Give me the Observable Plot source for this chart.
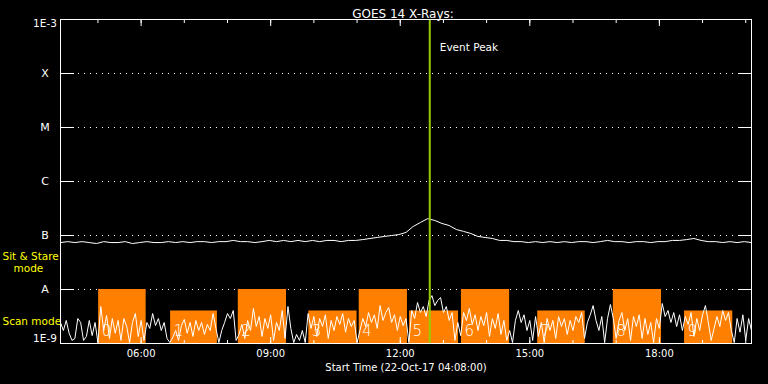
<!DOCTYPE html>
<html>
<head>
<meta charset="utf-8">
<script src="https://cdn.jsdelivr.net/npm/d3@7"></script>
<script src="https://cdn.jsdelivr.net/npm/@observablehq/plot@0.6"></script>
<style>
  html, body { margin: 0; padding: 0; background: #000; }
</style>
</head>
<body>
<div id="chart"></div>
<script>
// ---------------- data ----------------
const title = "GOES 14 X-Rays:";
const xAxisLabel = "Start Time (22-Oct-17 04:08:00)";
const startTime = "2017-10-22T04:08:00Z";
const endTime = "2017-10-22T20:08:00Z";

// Y-axis levels (W/m^2) and labels
const yLevels = [1e-9, 1e-8, 1e-7, 1e-6, 1e-5, 1e-4, 1e-3];
const yLabels = ["1E-9", "A", "B", "C", "M", "X", "1E-3"];

// Long channel (1-8 Å), 10-minute cadence, units of 1e-8 W/m^2
const longStepMin = 10;
const longFluxE8 = [
  7.4, 7.7, 7.4, 7.7, 7.4, 7.1, 7.7, 7.4, 7.4, 7.7,
  7.1, 7.4, 7.7, 7.4, 7.4, 7.7, 7.4, 7.7, 7.4, 7.7,
  7.7, 7.4, 7.7, 7.7, 8.1, 7.7, 7.7, 7.4, 7.7, 8.1,
  7.7, 8.1, 7.7, 8.1, 7.7, 8.1, 7.7, 8.1, 8.1, 7.7,
  8.1, 8.1, 8.4, 8.8, 9.2, 9.6, 10.0, 10.4, 11.4, 14.7,
  17.4, 20.5, 19.0, 16.7, 15.3, 12.9, 11.9, 10.9, 9.6, 9.2,
  8.8, 8.1, 8.1, 7.7, 7.7, 7.4, 7.7, 7.4, 7.7, 7.4,
  7.7, 7.4, 7.7, 7.7, 7.4, 7.7, 8.1, 7.7, 7.7, 7.4,
  7.7, 7.7, 7.4, 7.7, 7.7, 8.1, 8.1, 8.4, 8.8, 8.1,
  7.7, 7.7, 7.4, 7.7, 7.4, 7.7, 7.4
];

// Short channel (0.5-4 Å), 4-minute cadence, units of 1e-9 W/m^2
const shortStepMin = 4;
const shortFluxE9 = [
  2.45, 1.74, 2.67, 1.55, 1.14, 1.24, 2.9, 2.45, 1.14, 1.35,
  2.67, 1.4, 2.45, 1.04, 4.84, 1.74, 3.3, 1.24, 2.9, 1.55,
  2.67, 1.14, 2.9, 2.06, 1.04, 2.45, 3.59, 1.35, 2.67, 1.14,
  2.45, 1.9, 3.59, 2.15, 2.9, 1.74, 2.45, 1.24, 1.04, 1.29,
  1.74, 1.14, 2.15, 2.8, 1.55, 2.45, 1.35, 2.67, 1.74, 2.45,
  1.47, 2.25, 1.74, 3.59, 1.9, 1.04, 1.74, 2.45, 3.59, 2.9,
  4.08, 1.14, 1.47, 2.25, 1.24, 2.67, 1.74, 4.45, 2.06, 3.16,
  1.35, 2.9, 1.9, 3.4, 1.14, 2.45, 1.74, 4.08, 1.24, 4.84,
  1.9, 1.04, 1.47, 1.14, 1.74, 1.04, 3.59, 1.9, 3.16, 1.35,
  2.9, 2.06, 3.4, 1.24, 2.67, 1.74, 3.16, 2.25, 3.59, 1.62,
  2.9, 2.06, 2.67, 1.04, 1.74, 2.9, 2.06, 3.74, 2.45, 3.4,
  1.9, 5.04, 2.67, 3.74, 4.63, 2.45, 3.4, 1.74, 3.16, 2.15,
  2.9, 1.04, 4.08, 2.9, 5.74, 3.74, 4.84, 3.16, 6.25, 7.7,
  5.04, 6.25, 7.1, 3.74, 4.84, 2.67, 3.74, 1.14, 2.45, 1.4,
  3.74, 2.67, 4.45, 2.25, 3.4, 1.74, 3.16, 2.15, 3.74, 1.35,
  2.9, 1.9, 3.59, 1.47, 2.67, 1.14, 1.74, 1.04, 2.67, 4.08,
  2.45, 3.4, 1.74, 2.67, 1.14, 3.16, 1.35, 2.45, 1.04, 2.9,
  1.74, 2.67, 1.24, 3.16, 2.06, 2.9, 1.47, 2.67, 1.74, 3.16,
  2.45, 3.74, 1.24, 2.45, 3.4, 5.04, 2.67, 1.74, 3.16, 1.04,
  2.9, 5.27, 2.9, 1.24, 2.67, 3.74, 1.74, 2.9, 1.14, 3.16,
  2.06, 3.4, 1.24, 2.9, 1.47, 2.45, 1.04, 2.9, 1.9, 5.5,
  3.16, 4.08, 2.45, 3.74, 2.06, 3.4, 1.74, 3.16, 2.25, 3.74,
  1.35, 2.9, 1.74, 3.4, 5.04, 2.45, 1.14, 1.9, 3.16, 2.06,
  4.08, 2.67, 3.74, 1.74, 1.04, 2.9, 1.62, 3.4, 1.14, 2.9,
  1.74
];

// Scan-mode blocks
const scanStart = ["05:01", "06:41", "08:15", "09:53", "11:03", "12:13", "13:25", "15:11", "16:56", "18:35"];
const scanEnd   = ["06:07", "07:46", "09:22", "11:00", "12:10", "13:21", "14:32", "16:17", "18:03", "19:42"];
const scanTop   = [1e-8, 4e-9, 1e-8, 4e-9, 1e-8, 4e-9, 1e-8, 4e-9, 1e-8, 4e-9];
const scanLabel = ["0", "1", "2", "3", "4", "5", "6", "7", "8", "9"];

// Event peak
const eventPeakTime = "12:41";
const eventPeakLabel = "Event Peak";
const modeLabels = ["Sit & Stare", "mode", "Scan mode"];

// ---------------- build ----------------
const t0 = new Date(startTime);
const t1 = new Date(endTime);
const atTime = (hhmm) => new Date(`2017-10-22T${hhmm}:00Z`);
const addMin = (m) => new Date(t0.getTime() + m * 60000);

const longData = longFluxE8.map((v, i) => ({t: addMin(i * longStepMin), f: v * 1e-8}));
const shortData = shortFluxE9.map((v, i) => ({t: addMin(i * shortStepMin), f: v * 1e-9}));
const scans = scanStart.map((s, i) => ({x1: atTime(s), x2: atTime(scanEnd[i]), top: scanTop[i], label: scanLabel[i]}));
const peak = atTime(eventPeakTime);

const hourTicks = d3.utcHour.range(t0, t1);
const majorTicks = d3.utcHour.every(3).range(t0, t1);

const innerLevels = yLevels.slice(1, -1);
const innerLabels = yLabels.slice(1, -1);

const orange = "#ff8000";
const green = "#99cc00";
const yellow = "#ffff00";

const chart = Plot.plot({
  width: 768,
  height: 384,
  marginLeft: 60,
  marginRight: 17,
  marginTop: 19,
  marginBottom: 41,
  style: {background: "#000", color: "#fff", fontFamily: "DejaVu Sans", fontSize: "10px"},
  x: {type: "utc", domain: [t0, t1]},
  y: {type: "log", domain: [yLevels[0], yLevels[yLevels.length - 1]]},
  marks: [
    // dotted grid lines at flare classes
    Plot.ruleY(innerLevels, {stroke: "#fff", strokeDasharray: "1 5"}),
    // scan mode blocks
    Plot.rectY(scans, {x1: "x1", x2: "x2", y1: yLevels[0], y2: "top", fill: orange}),
    Plot.text(scans, {x: "x1", y: () => yLevels[0], text: "label", fill: "#fff", textAnchor: "start", dx: 3, dy: -12, fontSize: 15, fontWeight: 300}),
    // data
    Plot.line(shortData, {x: "t", y: "f", stroke: "#fff", strokeWidth: 1}),
    Plot.line(longData, {x: "t", y: "f", stroke: "#fff", strokeWidth: 1}),
    // event peak
    Plot.ruleX([peak], {stroke: green, strokeWidth: 2}),
    Plot.text([eventPeakLabel], {x: () => peak, frameAnchor: "top", textAnchor: "start", dx: 10, dy: 24, fill: "#fff", fontSize: 10.5}),
    // inward ticks
    Plot.axisY({anchor: "left", ticks: yLevels, tickSize: -14, fill: "none", stroke: "#fff", label: null}),
    Plot.axisY({anchor: "right", ticks: yLevels, tickSize: -14, fill: "none", stroke: "#fff", label: null}),
    Plot.axisX({anchor: "top", ticks: hourTicks, tickSize: -3, fill: "none", stroke: "#fff", label: null}),
    Plot.axisX({anchor: "top", ticks: majorTicks, tickSize: -6, fill: "none", stroke: "#fff", label: null}),
    Plot.axisX({anchor: "bottom", ticks: hourTicks, tickSize: -3, fill: "none", stroke: "#fff", label: null}),
    Plot.axisX({anchor: "bottom", ticks: majorTicks, tickSize: -6, fill: "none", stroke: "#fff", label: null}),
    // x tick labels
    Plot.axisX({anchor: "bottom", ticks: majorTicks, tickSize: 0, tickPadding: 6, tickFormat: d3.utcFormat("%H:%M"), fill: "#fff", label: null, fontSize: 10}),
    // y labels
    Plot.text(innerLevels, {y: (d) => d, text: (d, i) => innerLabels[i], frameAnchor: "left", dx: -15.5, textAnchor: "middle", fill: "#fff", fontSize: 11}),
    Plot.text([yLevels[yLevels.length - 1]], {y: (d) => d, text: () => yLabels[yLabels.length - 1], frameAnchor: "left", dx: -15.5, dy: 4, textAnchor: "middle", fill: "#fff", fontSize: 10.5}),
    Plot.text([yLevels[0]], {y: (d) => d, text: () => yLabels[0], frameAnchor: "left", dx: -15.5, dy: -5, textAnchor: "middle", fill: "#fff", fontSize: 10.5}),
    // mode labels
    Plot.text([modeLabels[0]], {frameAnchor: "bottom-left", dx: -58, dy: -84, textAnchor: "start", fill: yellow, fontSize: 10.5}),
    Plot.text([modeLabels[1]], {frameAnchor: "bottom-left", dx: -47, dy: -72, textAnchor: "start", fill: yellow, fontSize: 10.5}),
    Plot.text([modeLabels[2]], {frameAnchor: "bottom-left", dx: -58, dy: -19, textAnchor: "start", fill: yellow, fontSize: 10.5}),
    // title and x label
    Plot.text([title], {frameAnchor: "top", dx: -3, dy: -10, fill: "#fff", fontSize: 12}),
    Plot.text([xAxisLabel], {frameAnchor: "bottom", dy: 27, fill: "#fff", fontSize: 10}),
    // frame
    Plot.frame({stroke: "#fff"})
  ]
});
document.getElementById("chart").appendChild(chart);
</script>
</body>
</html>
